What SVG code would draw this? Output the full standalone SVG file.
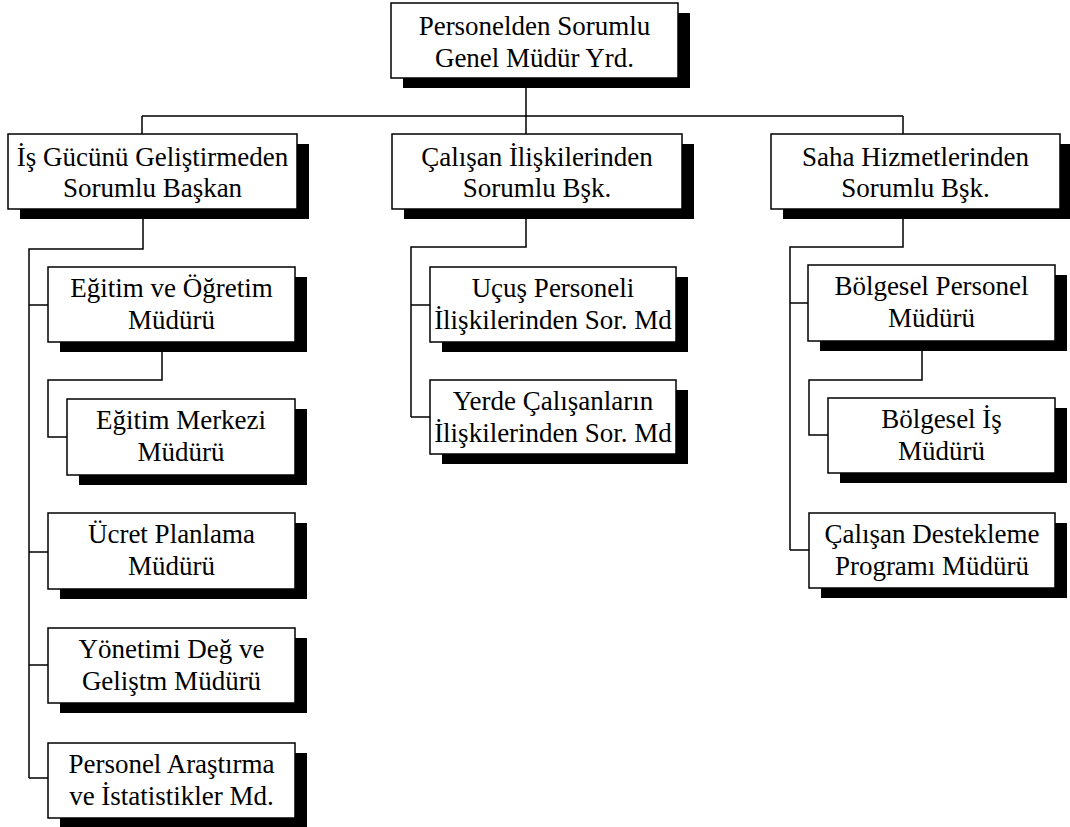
<svg xmlns="http://www.w3.org/2000/svg" width="1070" height="827" viewBox="0 0 1070 827">
  <style>
    .box { fill: #ffffff; stroke: #000000; stroke-width: 1.5; }
    .shadow { fill: #000000; }
    .lbl { font-family: "Liberation Serif", "Times New Roman", serif; font-size: 27px; fill: #000000; text-anchor: middle; }
    .conn { fill: none; stroke: #000000; stroke-width: 1.5; }
  </style>
  <rect width="1070" height="827" fill="#ffffff"/>

  <!-- connectors (drawn first so the drop shadows sit on top) -->
  <g id="connectors" class="conn">
    <path d="M526 78 V116 M142 116 H903 M142 116 V134 M526 116 V134 M903 116 V134"/>
    <!-- left branch -->
    <path d="M143 209 V249 H29 V778 M29 305 H48 M29 552 H48 M29 665 H48 M29 778 H48"/>
    <path d="M162 342 V380 H48 V437 H67"/>
    <!-- middle branch -->
    <path d="M526 209 V247 H411 V417 M411 305 H430 M411 417 H430"/>
    <!-- right branch -->
    <path d="M903 209 V247 H790 V550 M790 303 H808 M790 550 H809"/>
    <path d="M922 341 V380 H809 V435 H828"/>
  </g>

  <g id="n-gmy">
    <rect class="shadow" x="403" y="13" width="287" height="75"/>
    <rect class="box" x="391" y="3" width="287" height="75"/>
    <text class="lbl" x="534.5" y="35">Personelden Sorumlu</text>
    <text class="lbl" x="534.5" y="67">Genel Müdür Yrd.</text>
  </g>

  <g id="n-isgucu">
    <rect class="shadow" x="20" y="144" width="289" height="75"/>
    <rect class="box" x="8" y="134" width="289" height="75"/>
    <text class="lbl" x="152.5" y="166">İş Gücünü Geliştirmeden</text>
    <text class="lbl" x="152.5" y="197">Sorumlu Başkan</text>
  </g>

  <g id="n-calisan">
    <rect class="shadow" x="404" y="144" width="290" height="75"/>
    <rect class="box" x="392" y="134" width="290" height="75"/>
    <text class="lbl" x="537" y="166">Çalışan İlişkilerinden</text>
    <text class="lbl" x="537" y="197">Sorumlu Bşk.</text>
  </g>

  <g id="n-saha">
    <rect class="shadow" x="783" y="144" width="289" height="75"/>
    <rect class="box" x="771" y="134" width="289" height="75"/>
    <text class="lbl" x="915.5" y="166">Saha Hizmetlerinden</text>
    <text class="lbl" x="915.5" y="197">Sorumlu Bşk.</text>
  </g>

  <g id="n-egitim-ogretim">
    <rect class="shadow" x="60" y="277" width="247" height="75"/>
    <rect class="box" x="48" y="267" width="247" height="75"/>
    <text class="lbl" x="171.5" y="297">Eğitim ve Öğretim</text>
    <text class="lbl" x="171.5" y="329">Müdürü</text>
  </g>

  <g id="n-egitim-merkezi">
    <rect class="shadow" x="79" y="409" width="228" height="76"/>
    <rect class="box" x="67" y="399" width="228" height="76"/>
    <text class="lbl" x="181" y="429">Eğitim Merkezi</text>
    <text class="lbl" x="181" y="461">Müdürü</text>
  </g>

  <g id="n-ucret">
    <rect class="shadow" x="60" y="523" width="247" height="76"/>
    <rect class="box" x="48" y="513" width="247" height="76"/>
    <text class="lbl" x="171.5" y="543">Ücret Planlama</text>
    <text class="lbl" x="171.5" y="575">Müdürü</text>
  </g>

  <g id="n-yonetim">
    <rect class="shadow" x="60" y="638" width="247" height="75"/>
    <rect class="box" x="48" y="628" width="247" height="75"/>
    <text class="lbl" x="171.5" y="658">Yönetimi Değ ve</text>
    <text class="lbl" x="171.5" y="690">Geliştm Müdürü</text>
  </g>

  <g id="n-arastirma">
    <rect class="shadow" x="60" y="753" width="247" height="75"/>
    <rect class="box" x="48" y="743" width="247" height="75"/>
    <text class="lbl" x="171.5" y="773">Personel Araştırma</text>
    <text class="lbl" x="171.5" y="805">ve İstatistikler Md.</text>
  </g>

  <g id="n-ucus">
    <rect class="shadow" x="442" y="277" width="246" height="75"/>
    <rect class="box" x="430" y="267" width="246" height="75"/>
    <text class="lbl" x="553" y="297">Uçuş Personeli</text>
    <text class="lbl" x="553" y="329">İlişkilerinden Sor. Md</text>
  </g>

  <g id="n-yerde">
    <rect class="shadow" x="442" y="390" width="246" height="74"/>
    <rect class="box" x="430" y="380" width="246" height="74"/>
    <text class="lbl" x="553" y="410">Yerde Çalışanların</text>
    <text class="lbl" x="553" y="442">İlişkilerinden Sor. Md</text>
  </g>

  <g id="n-bolgesel-personel">
    <rect class="shadow" x="820" y="275" width="247" height="76"/>
    <rect class="box" x="808" y="265" width="247" height="76"/>
    <text class="lbl" x="931.5" y="295">Bölgesel Personel</text>
    <text class="lbl" x="931.5" y="327">Müdürü</text>
  </g>

  <g id="n-bolgesel-is">
    <rect class="shadow" x="840" y="408" width="227" height="75"/>
    <rect class="box" x="828" y="398" width="227" height="75"/>
    <text class="lbl" x="941.5" y="428">Bölgesel İş</text>
    <text class="lbl" x="941.5" y="460">Müdürü</text>
  </g>

  <g id="n-destek">
    <rect class="shadow" x="821" y="523" width="246" height="75"/>
    <rect class="box" x="809" y="513" width="246" height="75"/>
    <text class="lbl" x="932" y="543">Çalışan Destekleme</text>
    <text class="lbl" x="932" y="575">Programı Müdürü</text>
  </g>
</svg>
